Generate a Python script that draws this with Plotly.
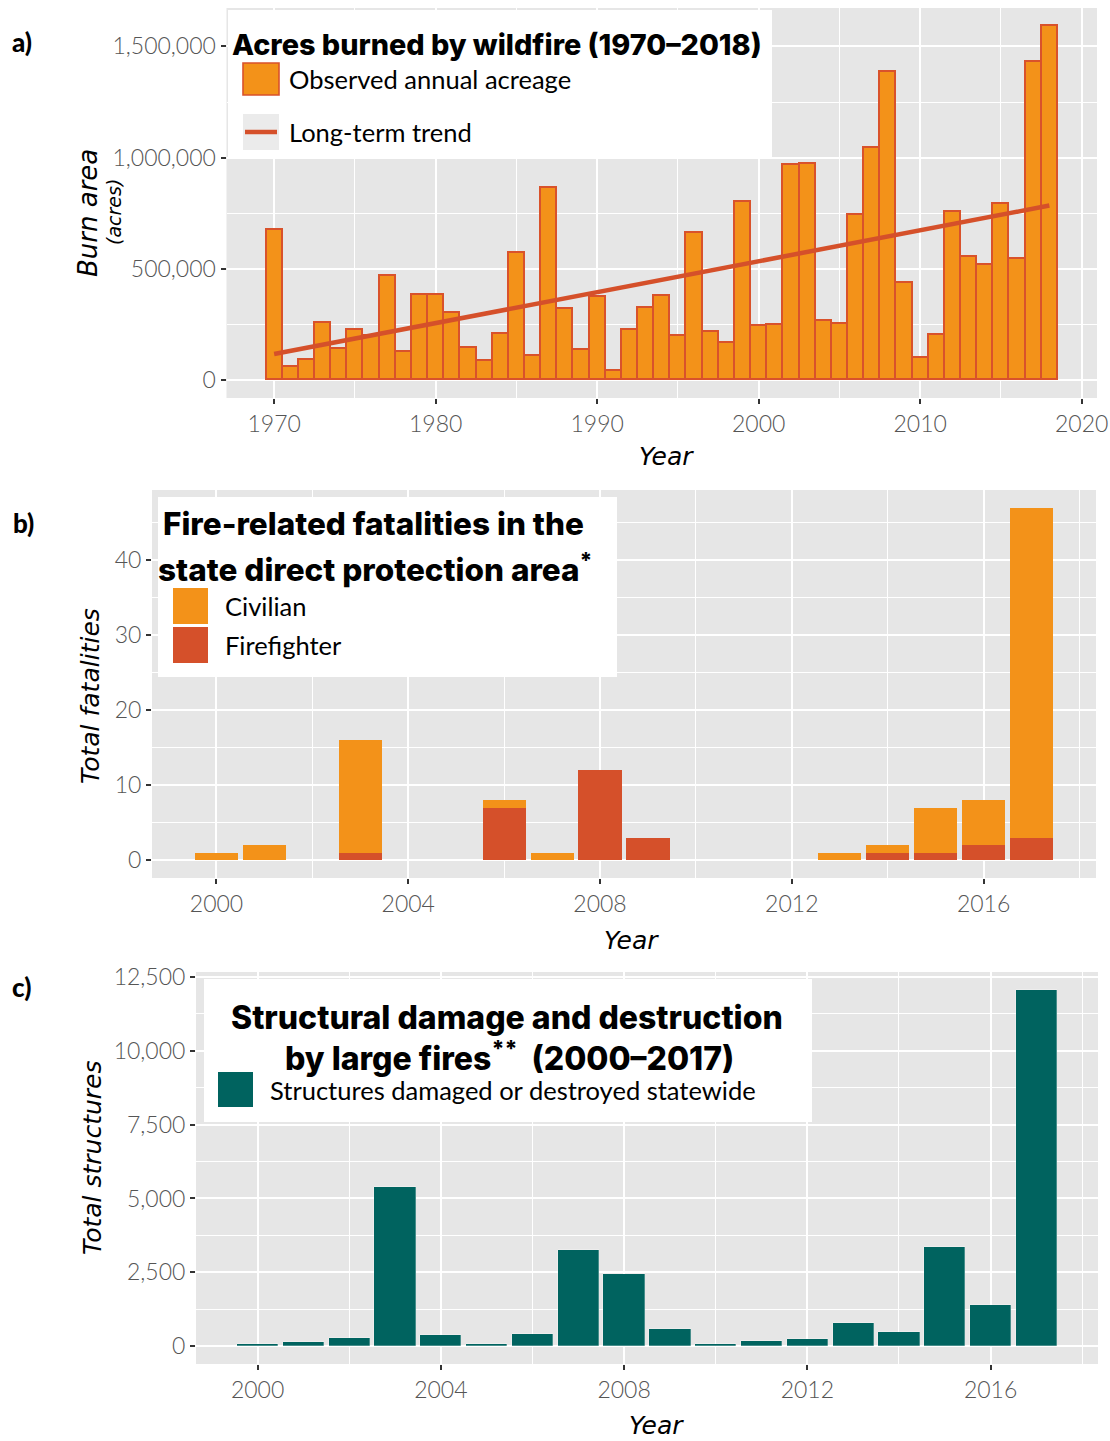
import plotly.graph_objects as go

# ---------------- data ----------------
years_a = list(range(1970, 2019))
acres = [676000, 60000, 93000, 258000, 140000, 226000, 200000, 468000, 127000, 382000,
         381000, 303000, 145000, 87000, 209000, 570000, 110000, 864000, 321000, 134000,
         373000, 40000, 224000, 325000, 378000, 199000, 661000, 218000, 166000, 800000,
         245000, 248000, 968000, 973000, 266000, 255000, 744000, 1045000, 1386000, 436000,
         102000, 203000, 754000, 555000, 520000, 791000, 545000, 1429000, 1593000]
trend_years = [1970, 2018]
trend_acres = [118000, 785000]

years_b = list(range(2000, 2018))
civilian = [1, 2, 0, 15, 0, 0, 1, 1, 0, 0, 0, 0, 0, 1, 1, 6, 6, 44]
firefighter = [0, 0, 0, 1, 0, 0, 7, 0, 12, 3, 0, 0, 0, 0, 1, 1, 2, 3]

years_c = list(range(2000, 2018))
structures = [90, 140, 290, 5385, 365, 70, 400, 3240, 2430, 570,
              90, 160, 250, 775, 465, 3340, 1385, 12060]

a_xticks = [1970, 1980, 1990, 2000, 2010, 2020]
a_yticks = [0, 500000, 1000000, 1500000]
b_xticks = [2000, 2004, 2008, 2012, 2016]
b_yticks = [0, 10, 20, 30, 40]
c_xticks = [2000, 2004, 2008, 2012, 2016]
c_yticks = [0, 2500, 5000, 7500, 10000, 12500]

# ---------------- style ----------------
W, H = 1110, 1441
ORANGE = "#F39219"
RED = "#D5502A"
TEAL = "#00635F"
PANEL = "#E6E6E6"
TICKFONT = dict(family="Lato", size=23, color="#555555", weight=300)
TITLEFONT = "Inter"
AXFONT = "DejaVu Sans"


def px(x):
    return x / W


def py(y):
    return 1 - y / H


fig = go.Figure()

# Panel a
fig.add_trace(go.Bar(x=years_a, y=acres, width=1, xaxis="x", yaxis="y",
                     marker=dict(color=ORANGE, line=dict(color="#D9522B", width=1.6)),
                     name="Observed annual acreage", showlegend=False))
fig.add_trace(go.Scatter(x=trend_years, y=trend_acres, mode="lines", xaxis="x", yaxis="y",
                         line=dict(color=RED, width=4.5), name="Long-term trend",
                         showlegend=False))
# Panel b
fig.add_trace(go.Bar(x=years_b, y=firefighter, width=0.9, xaxis="x2", yaxis="y2",
                     marker=dict(color=RED, line=dict(width=0)), name="Firefighter",
                     showlegend=False))
fig.add_trace(go.Bar(x=years_b, y=civilian, width=0.9, xaxis="x2", yaxis="y2",
                     marker=dict(color=ORANGE, line=dict(width=0)), name="Civilian",
                     showlegend=False))
# Panel c
fig.add_trace(go.Bar(x=years_c, y=structures, width=0.9, xaxis="x3", yaxis="y3",
                     marker=dict(color=TEAL, line=dict(color="rgba(255,255,255,0.35)", width=0.8)),
                     name="Structures damaged or destroyed statewide", showlegend=False))


def xax(dom, rng, ticks, minor, anchor):
    return dict(domain=[px(dom[0]), px(dom[1])], range=rng, anchor=anchor,
                tickvals=ticks, tickfont=TICKFONT, ticks="outside", ticklen=5,
                tickwidth=2, tickcolor="#333333", showgrid=True, gridcolor="white",
                gridwidth=2, zeroline=False, showline=False, automargin=False,
                minor=dict(tickvals=minor, showgrid=True, gridcolor="white", gridwidth=1,
                           ticks=""))


def yax(dom, rng, ticks, minor, anchor):
    d = xax((0, 1), rng, ticks, minor, anchor)
    d["domain"] = [py(dom[1]), py(dom[0])]
    d["tickformat"] = ","
    return d


mina_x = [1975, 1985, 1995, 2005, 2015]
mina_y = [250000, 750000, 1250000]
minb_x = [2002, 2006, 2010, 2014, 2018]
minb_y = [5, 15, 25, 35, 45]
minc_y = [1250, 3750, 6250, 8750, 11250]

fig.update_layout(
    width=W, height=H, margin=dict(l=0, r=0, t=0, b=0),
    paper_bgcolor="white", plot_bgcolor=PANEL, barmode="stack", bargap=0,
    showlegend=False,
    xaxis=xax((226.5, 1097), [1967.05, 2020.95], a_xticks, mina_x, "y"),
    yaxis=yax((8, 398), [-79650, 1672650], a_yticks, mina_y, "x"),
    xaxis2=xax((152, 1096), [1998.655, 2018.345], b_xticks, minb_x, "y2"),
    yaxis2=yax((490, 878), [-2.35, 49.35], b_yticks, minb_y, "x2"),
    xaxis3=xax((196, 1098), [1998.655, 2018.345], c_xticks, minb_x, "y3"),
    yaxis3=yax((972, 1364), [-603, 12663], c_yticks, minc_y, "x3"),
)

shapes = []
ann = []


def rect(x0, y0, x1, y1, fill, line=None, lw=0):
    shapes.append(dict(type="rect", xref="paper", yref="paper", layer="above",
                       x0=px(x0), x1=px(x1), y0=py(y1), y1=py(y0), fillcolor=fill,
                       line=dict(color=line or fill, width=lw)))


def text(s, x, y, size, family="Lato", color="black", weight=400, style="normal",
         xanchor="left", angle=0):
    ann.append(dict(text=s, x=px(x), y=py(y), xref="paper", yref="paper",
                    xanchor=xanchor, yanchor="middle", showarrow=False, textangle=angle,
                    font=dict(family=family, size=size, color=color, weight=weight,
                              style=style)))


# Legend a
rect(228, 10, 772, 158, "white")
rect(243, 63, 279, 95, ORANGE, "#D9522B", 1.6)
rect(243, 114, 279, 150, "#EBEBEB")
shapes.append(dict(type="line", xref="paper", yref="paper", layer="above",
                   x0=px(245), x1=px(277), y0=py(132), y1=py(132),
                   line=dict(color=RED, width=4.5)))
text("Acres burned by wildfire (1970–2018)", 230, 44, 28.8, TITLEFONT, weight=800)
text("Observed annual acreage", 287, 79, 25.5)
text("Long-term trend", 287, 132, 25.5)

# Legend b
rect(158, 497, 617, 677, "white")
rect(173, 588, 208, 624, ORANGE)
rect(173, 627, 208, 663, RED)
text("Fire-related fatalities in the", 161, 523, 31.5, TITLEFONT, weight=800)
text("state direct protection area<sup>*</sup>", 156, 568, 31.5, TITLEFONT, weight=800)
text("Civilian", 223, 606, 25.5)
text("Firefighter", 223, 645, 25.5)

# Legend c
rect(204, 979, 812, 1122, "white")
rect(218, 1072, 253, 1107, TEAL)
text("Structural damage and destruction", 507, 1017, 32, TITLEFONT, weight=800,
     xanchor="center")
text("by large fires<sup>**</sup>\u00a0\u00a0(2000–2017)", 509, 1056, 32, TITLEFONT,
     weight=800, xanchor="center")
text("Structures damaged or destroyed statewide", 268, 1090, 25.5)

# Axis titles
text("Year", 666, 456, 25, AXFONT, style="italic", xanchor="center")
text("Year", 631, 940, 25, AXFONT, style="italic", xanchor="center")
text("Year", 656, 1425, 25, AXFONT, style="italic", xanchor="center")
text("Burn area", 88, 213, 26, AXFONT, style="italic", xanchor="center", angle=-90)
text("(acres)", 114, 212, 19, AXFONT, style="italic", xanchor="center", angle=-90)
text("Total fatalities", 90, 696, 25, AXFONT, style="italic", xanchor="center", angle=-90)
text("Total structures", 92, 1158, 25, AXFONT, style="italic", xanchor="center", angle=-90)

# Panel letters
text("a)", 10, 42, 26, weight=900)
text("b)", 11, 523, 26, weight=900)
text("c)", 10, 987, 26, weight=900)

fig.update_layout(shapes=shapes, annotations=ann)

fig.write_html("out.html", config={"displayModeBar": False},
               post_script="document.body.style.margin='0';")
